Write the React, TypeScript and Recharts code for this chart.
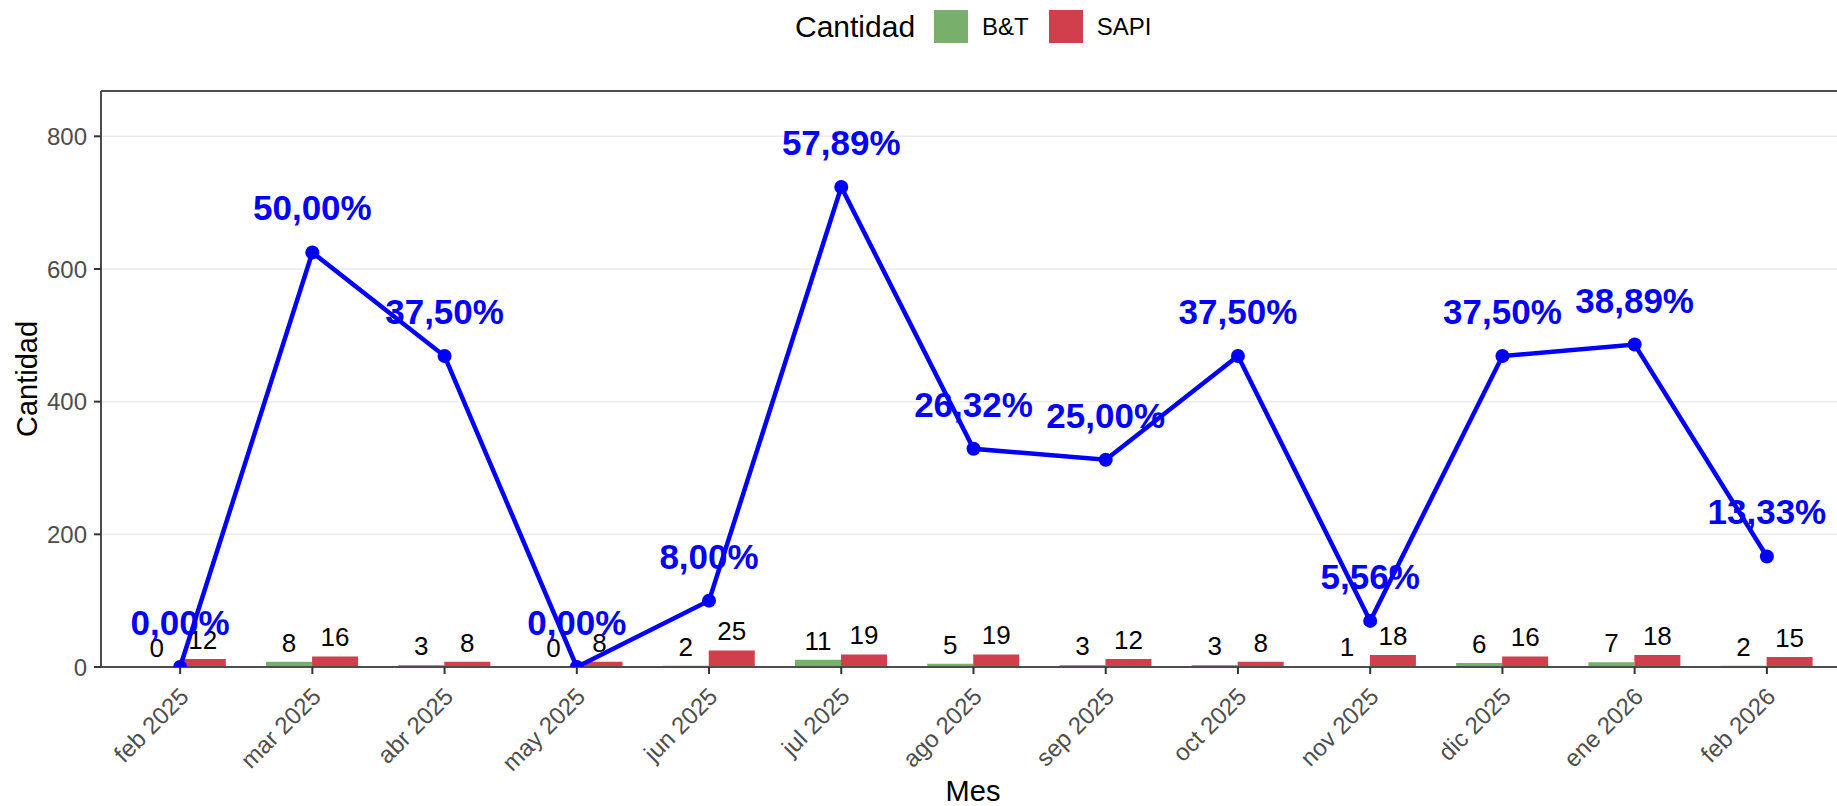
import React from 'react';
import {
  ComposedChart,
  Bar,
  Line,
  XAxis,
  YAxis,
  CartesianGrid,
  Legend,
  LabelList,
  ReferenceLine,
  Label,
} from 'recharts';

const months = [
  'feb 2025', 'mar 2025', 'abr 2025', 'may 2025', 'jun 2025', 'jul 2025', 'ago 2025',
  'sep 2025', 'oct 2025', 'nov 2025', 'dic 2025', 'ene 2026', 'feb 2026',
];
const btValues = [0, 8, 3, 0, 2, 11, 5, 3, 3, 1, 6, 7, 2];
const sapiValues = [12, 16, 8, 8, 25, 19, 19, 12, 8, 18, 16, 18, 15];
const pctValues = [0, 50, 37.5, 0, 8, 57.89, 26.32, 25, 37.5, 5.56, 37.5, 38.89, 13.33];
const yTicks = [0, 200, 400, 600, 800];
const Y_MAX = 868.3;
const PCT_MAX = 69.47;

const data = months.map((m, i) => ({
  mes: m,
  bt: btValues[i],
  sapi: sapiValues[i],
  pct: pctValues[i],
}));

const FONT = '"Liberation Sans", Arial, Helvetica, sans-serif';
const GREEN = '#78AF6B';
const RED = '#D03F4B';
const BLUE = '#0000FF';
const AXIS = '#4D4D4D';

const XTick = (props: any) => {
  const { x, y, payload } = props;
  return (
    <g transform={`translate(${x + 10},${y + 22})`}>
      <text
        x={0}
        y={0}
        transform="rotate(-45)"
        textAnchor="end"
        fontSize={24}
        fontFamily={FONT}
        fill={AXIS}
      >
        {payload.value}
      </text>
    </g>
  );
};

const BarValueLabel = (props: any) => {
  const { x, y, width, value } = props;
  const vb = props.viewBox || {};
  const bx = x != null ? x : vb.x;
  const by = y != null ? y : vb.y;
  const bw = width != null ? width : vb.width;
  if (bx == null || by == null) return null;
  return (
    <text
      x={Number(bx) + Number(bw) / 2}
      y={Number(by) - 10}
      textAnchor="middle"
      fontSize={26}
      fontFamily={FONT}
      fill="#000"
    >
      {String(value)}
    </text>
  );
};

const renderLegend = (props: any) => {
  const items = (props.payload || []).filter((p: any) => p.type !== 'none');
  return (
    <div style={{ display: 'flex', alignItems: 'center', fontFamily: FONT, color: '#000' }}>
      <span style={{ fontSize: 30, marginRight: 19, lineHeight: '33px' }}>Cantidad</span>
      {items.map((it: any, i: number) => (
        <span key={i} style={{ display: 'flex', alignItems: 'center', marginRight: 20 }}>
          <span
            style={{ display: 'inline-block', width: 34, height: 33, background: it.color, marginRight: 14 }}
          />
          <span style={{ fontSize: 24, lineHeight: '33px' }}>{it.value}</span>
        </span>
      ))}
    </div>
  );
};

const fmtPct = (v: any) => `${Number(v).toFixed(2).replace('.', ',')}%`;
const zeroMinSize = (v: any) => (Number(v) === 0 ? 0.01 : 0);

export default function App() {
  return (
    <div style={{ position: 'absolute', left: 0, top: 0, width: 1837, height: 806, background: '#fff' }}>
      <ComposedChart
        width={1837}
        height={806}
        data={data}
        margin={{ top: 91, right: 0, bottom: 0, left: 0 }}
        barCategoryGap="15%"
        barGap={0}
      >
        <CartesianGrid horizontal vertical={false} stroke="#EBEBEB" strokeWidth={1.5} yAxisId="count" />
        <XAxis
          dataKey="mes"
          height={139}
          interval={0}
          padding={{ left: 13, right: 4 }}
          tick={<XTick />}
          tickSize={7}
          tickMargin={2}
          axisLine={{ stroke: AXIS, strokeWidth: 2 }}
          tickLine={{ stroke: '#333', strokeWidth: 2 }}
        >
          <Label
            content={(p: any) => {
              const vb = p.viewBox || {};
              return (
                <text
                  x={vb.x + vb.width / 2 + 4}
                  y={801}
                  textAnchor="middle"
                  fontSize={29}
                  fontFamily={FONT}
                  fill="#000"
                >
                  Mes
                </text>
              );
            }}
          />
        </XAxis>
        <YAxis
          yAxisId="count"
          width={101}
          domain={[0, Y_MAX]}
          allowDataOverflow
          ticks={yTicks}
          tickSize={7}
          tickMargin={7}
          tick={{ fontSize: 24, fill: AXIS, fontFamily: FONT }}
          axisLine={{ stroke: AXIS, strokeWidth: 2 }}
          tickLine={{ stroke: '#333', strokeWidth: 2 }}
        >
          <Label
            content={(p: any) => {
              const vb = p.viewBox || {};
              const cy = vb.y + vb.height / 2;
              return (
                <text
                  x={0}
                  y={0}
                  transform={`translate(37,${cy}) rotate(-90)`}
                  textAnchor="middle"
                  fontSize={29}
                  fontFamily={FONT}
                  fill="#000"
                >
                  Cantidad
                </text>
              );
            }}
          />
        </YAxis>
        <YAxis yAxisId="pct" hide domain={[0, PCT_MAX]} allowDataOverflow />
        <ReferenceLine yAxisId="count" y={Y_MAX} stroke={AXIS} strokeWidth={2} />
        <Legend
          layout="horizontal"
          verticalAlign="middle"
          align="center"
          content={renderLegend}
          wrapperStyle={{ position: 'absolute', top: 10, left: 795, width: 'auto', height: 33 }}
        />
        <Bar
          yAxisId="count"
          dataKey="bt"
          name="B&T"
          fill={GREEN}
          minPointSize={zeroMinSize}
          isAnimationActive={false}
        >
          <LabelList dataKey="bt" content={<BarValueLabel />} />
        </Bar>
        <Bar yAxisId="count" dataKey="sapi" name="SAPI" fill={RED} isAnimationActive={false}>
          <LabelList dataKey="sapi" content={<BarValueLabel />} />
        </Bar>
        <Line
          yAxisId="pct"
          dataKey="pct"
          type="linear"
          stroke={BLUE}
          strokeWidth={4.5}
          dot={{ r: 7, fill: BLUE, stroke: BLUE, strokeWidth: 0 }}
          activeDot={false}
          legendType="none"
          isAnimationActive={false}
        >
          <LabelList
            dataKey="pct"
            position="top"
            offset={32}
            formatter={fmtPct}
            fill={BLUE}
            fontSize={35}
            fontWeight="bold"
            fontFamily={FONT}
          />
        </Line>
      </ComposedChart>
    </div>
  );
}
